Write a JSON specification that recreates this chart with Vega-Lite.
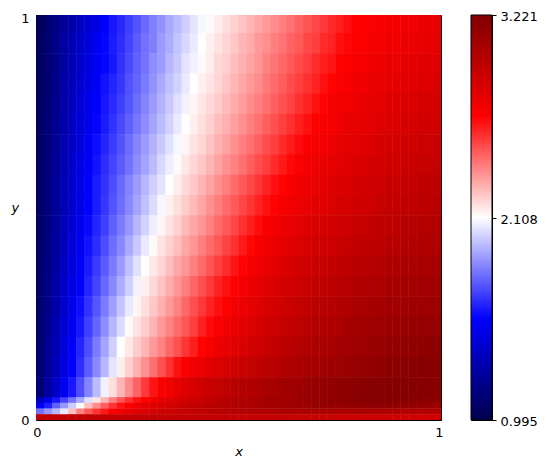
{"$schema":"https://vega.github.io/schema/vega-lite/v6.json","padding":{"left":10,"top":10,"right":0,"bottom":0},"background":"white","config":{"font":"DejaVu Sans","axis":{"labelFont":"DejaVu Sans","titleFont":"DejaVu Sans","labelFontSize":13,"titleFontSize":13,"labelColor":"#000","titleColor":"#000","grid":false,"domain":false,"titleFontWeight":"normal"},"view":{"stroke":"black"},"concat":{"spacing":26}},"datasets":{"main":[
{"x":1,"y":98,"v":1.04},{"x":3,"y":98,"v":1.10},{"x":5,"y":98,"v":1.17},{"x":7,"y":98,"v":1.23},{"x":9,"y":98,"v":1.29},{"x":11,"y":98,"v":1.35},{"x":13,"y":98,"v":1.42},{"x":15,"y":98,"v":1.47},{"x":17,"y":98,"v":1.54},{"x":19,"y":98,"v":1.60},{"x":21,"y":98,"v":1.64},{"x":23,"y":98,"v":1.69},{"x":25,"y":98,"v":1.73},{"x":27,"y":98,"v":1.78},{"x":29,"y":98,"v":1.83},{"x":31,"y":98,"v":1.87},{"x":33,"y":98,"v":1.92},{"x":35,"y":98,"v":1.96},{"x":37,"y":98,"v":2.00},{"x":39,"y":98,"v":2.05},{"x":41,"y":98,"v":2.09},{"x":43,"y":98,"v":2.12},{"x":45,"y":98,"v":2.15},{"x":47,"y":98,"v":2.18},{"x":49,"y":98,"v":2.21},{"x":51,"y":98,"v":2.24},{"x":53,"y":98,"v":2.27},{"x":55,"y":98,"v":2.30},{"x":57,"y":98,"v":2.33},{"x":59,"y":98,"v":2.36},{"x":61,"y":98,"v":2.39},{"x":63,"y":98,"v":2.42},{"x":65,"y":98,"v":2.45},{"x":67,"y":98,"v":2.48},{"x":69,"y":98,"v":2.51},{"x":71,"y":98,"v":2.54},{"x":73,"y":98,"v":2.57},{"x":75,"y":98,"v":2.60},{"x":77,"y":98,"v":2.63},{"x":79,"y":98,"v":2.66},{"x":81,"y":98,"v":2.67},{"x":83,"y":98,"v":2.68},{"x":85,"y":98,"v":2.69},{"x":87,"y":98,"v":2.70},{"x":89,"y":98,"v":2.71},{"x":91,"y":98,"v":2.72},{"x":93,"y":98,"v":2.73},{"x":95,"y":98,"v":2.74},{"x":97,"y":98,"v":2.75},{"x":99,"y":98,"v":2.76},
{"x":1,"y":93,"v":1.05},{"x":3,"y":93,"v":1.12},{"x":5,"y":93,"v":1.18},{"x":7,"y":93,"v":1.26},{"x":9,"y":93,"v":1.31},{"x":11,"y":93,"v":1.39},{"x":13,"y":93,"v":1.44},{"x":15,"y":93,"v":1.51},{"x":17,"y":93,"v":1.56},{"x":19,"y":93,"v":1.61},{"x":21,"y":93,"v":1.65},{"x":23,"y":93,"v":1.70},{"x":25,"y":93,"v":1.75},{"x":27,"y":93,"v":1.80},{"x":29,"y":93,"v":1.83},{"x":31,"y":93,"v":1.89},{"x":33,"y":93,"v":1.93},{"x":35,"y":93,"v":1.98},{"x":37,"y":93,"v":2.02},{"x":39,"y":93,"v":2.06},{"x":41,"y":93,"v":2.11},{"x":43,"y":93,"v":2.14},{"x":45,"y":93,"v":2.17},{"x":47,"y":93,"v":2.20},{"x":49,"y":93,"v":2.23},{"x":51,"y":93,"v":2.27},{"x":53,"y":93,"v":2.29},{"x":55,"y":93,"v":2.33},{"x":57,"y":93,"v":2.35},{"x":59,"y":93,"v":2.39},{"x":61,"y":93,"v":2.41},{"x":63,"y":93,"v":2.45},{"x":65,"y":93,"v":2.47},{"x":67,"y":93,"v":2.51},{"x":69,"y":93,"v":2.53},{"x":71,"y":93,"v":2.57},{"x":73,"y":93,"v":2.59},{"x":75,"y":93,"v":2.63},{"x":77,"y":93,"v":2.65},{"x":79,"y":93,"v":2.67},{"x":81,"y":93,"v":2.68},{"x":83,"y":93,"v":2.70},{"x":85,"y":93,"v":2.71},{"x":87,"y":93,"v":2.72},{"x":89,"y":93,"v":2.73},{"x":91,"y":93,"v":2.74},{"x":93,"y":93,"v":2.75},{"x":95,"y":93,"v":2.76},{"x":97,"y":93,"v":2.77},{"x":99,"y":93,"v":2.78},
{"x":1,"y":88,"v":1.05},{"x":3,"y":88,"v":1.11},{"x":5,"y":88,"v":1.19},{"x":7,"y":88,"v":1.25},{"x":9,"y":88,"v":1.33},{"x":11,"y":88,"v":1.38},{"x":13,"y":88,"v":1.46},{"x":15,"y":88,"v":1.51},{"x":17,"y":88,"v":1.56},{"x":19,"y":88,"v":1.60},{"x":21,"y":88,"v":1.66},{"x":23,"y":88,"v":1.71},{"x":25,"y":88,"v":1.76},{"x":27,"y":88,"v":1.80},{"x":29,"y":88,"v":1.86},{"x":31,"y":88,"v":1.89},{"x":33,"y":88,"v":1.95},{"x":35,"y":88,"v":1.99},{"x":37,"y":88,"v":2.05},{"x":39,"y":88,"v":2.08},{"x":41,"y":88,"v":2.12},{"x":43,"y":88,"v":2.15},{"x":45,"y":88,"v":2.19},{"x":47,"y":88,"v":2.21},{"x":49,"y":88,"v":2.25},{"x":51,"y":88,"v":2.28},{"x":53,"y":88,"v":2.31},{"x":55,"y":88,"v":2.34},{"x":57,"y":88,"v":2.38},{"x":59,"y":88,"v":2.41},{"x":61,"y":88,"v":2.44},{"x":63,"y":88,"v":2.47},{"x":65,"y":88,"v":2.50},{"x":67,"y":88,"v":2.53},{"x":69,"y":88,"v":2.57},{"x":71,"y":88,"v":2.60},{"x":73,"y":88,"v":2.62},{"x":75,"y":88,"v":2.66},{"x":77,"y":88,"v":2.68},{"x":79,"y":88,"v":2.69},{"x":81,"y":88,"v":2.71},{"x":83,"y":88,"v":2.72},{"x":85,"y":88,"v":2.74},{"x":87,"y":88,"v":2.75},{"x":89,"y":88,"v":2.76},{"x":91,"y":88,"v":2.77},{"x":93,"y":88,"v":2.78},{"x":95,"y":88,"v":2.79},{"x":97,"y":88,"v":2.80},{"x":99,"y":88,"v":2.80},
{"x":1,"y":83,"v":1.05},{"x":3,"y":83,"v":1.12},{"x":5,"y":83,"v":1.19},{"x":7,"y":83,"v":1.26},{"x":9,"y":83,"v":1.33},{"x":11,"y":83,"v":1.40},{"x":13,"y":83,"v":1.47},{"x":15,"y":83,"v":1.53},{"x":17,"y":83,"v":1.59},{"x":19,"y":83,"v":1.63},{"x":21,"y":83,"v":1.67},{"x":23,"y":83,"v":1.73},{"x":25,"y":83,"v":1.77},{"x":27,"y":83,"v":1.82},{"x":29,"y":83,"v":1.87},{"x":31,"y":83,"v":1.92},{"x":33,"y":83,"v":1.97},{"x":35,"y":83,"v":2.01},{"x":37,"y":83,"v":2.06},{"x":39,"y":83,"v":2.11},{"x":41,"y":83,"v":2.14},{"x":43,"y":83,"v":2.17},{"x":45,"y":83,"v":2.20},{"x":47,"y":83,"v":2.23},{"x":49,"y":83,"v":2.27},{"x":51,"y":83,"v":2.30},{"x":53,"y":83,"v":2.33},{"x":55,"y":83,"v":2.36},{"x":57,"y":83,"v":2.40},{"x":59,"y":83,"v":2.43},{"x":61,"y":83,"v":2.46},{"x":63,"y":83,"v":2.50},{"x":65,"y":83,"v":2.53},{"x":67,"y":83,"v":2.56},{"x":69,"y":83,"v":2.59},{"x":71,"y":83,"v":2.63},{"x":73,"y":83,"v":2.66},{"x":75,"y":83,"v":2.68},{"x":77,"y":83,"v":2.70},{"x":79,"y":83,"v":2.72},{"x":81,"y":83,"v":2.73},{"x":83,"y":83,"v":2.75},{"x":85,"y":83,"v":2.76},{"x":87,"y":83,"v":2.77},{"x":89,"y":83,"v":2.78},{"x":91,"y":83,"v":2.79},{"x":93,"y":83,"v":2.80},{"x":95,"y":83,"v":2.81},{"x":97,"y":83,"v":2.82},{"x":99,"y":83,"v":2.83},
{"x":1,"y":78,"v":1.06},{"x":3,"y":78,"v":1.12},{"x":5,"y":78,"v":1.20},{"x":7,"y":78,"v":1.27},{"x":9,"y":78,"v":1.35},{"x":11,"y":78,"v":1.41},{"x":13,"y":78,"v":1.49},{"x":15,"y":78,"v":1.55},{"x":17,"y":78,"v":1.60},{"x":19,"y":78,"v":1.64},{"x":21,"y":78,"v":1.69},{"x":23,"y":78,"v":1.74},{"x":25,"y":78,"v":1.79},{"x":27,"y":78,"v":1.84},{"x":29,"y":78,"v":1.89},{"x":31,"y":78,"v":1.94},{"x":33,"y":78,"v":1.99},{"x":35,"y":78,"v":2.04},{"x":37,"y":78,"v":2.08},{"x":39,"y":78,"v":2.13},{"x":41,"y":78,"v":2.16},{"x":43,"y":78,"v":2.19},{"x":45,"y":78,"v":2.22},{"x":47,"y":78,"v":2.26},{"x":49,"y":78,"v":2.29},{"x":51,"y":78,"v":2.32},{"x":53,"y":78,"v":2.36},{"x":55,"y":78,"v":2.39},{"x":57,"y":78,"v":2.42},{"x":59,"y":78,"v":2.46},{"x":61,"y":78,"v":2.49},{"x":63,"y":78,"v":2.52},{"x":65,"y":78,"v":2.56},{"x":67,"y":78,"v":2.59},{"x":69,"y":78,"v":2.63},{"x":71,"y":78,"v":2.66},{"x":73,"y":78,"v":2.69},{"x":75,"y":78,"v":2.71},{"x":77,"y":78,"v":2.73},{"x":79,"y":78,"v":2.74},{"x":81,"y":78,"v":2.76},{"x":83,"y":78,"v":2.77},{"x":85,"y":78,"v":2.78},{"x":87,"y":78,"v":2.80},{"x":89,"y":78,"v":2.81},{"x":91,"y":78,"v":2.82},{"x":93,"y":78,"v":2.83},{"x":95,"y":78,"v":2.84},{"x":97,"y":78,"v":2.84},{"x":99,"y":78,"v":2.85},
{"x":1,"y":73,"v":1.06},{"x":3,"y":73,"v":1.13},{"x":5,"y":73,"v":1.21},{"x":7,"y":73,"v":1.28},{"x":9,"y":73,"v":1.36},{"x":11,"y":73,"v":1.43},{"x":13,"y":73,"v":1.50},{"x":15,"y":73,"v":1.56},{"x":17,"y":73,"v":1.61},{"x":19,"y":73,"v":1.66},{"x":21,"y":73,"v":1.71},{"x":23,"y":73,"v":1.76},{"x":25,"y":73,"v":1.81},{"x":27,"y":73,"v":1.86},{"x":29,"y":73,"v":1.91},{"x":31,"y":73,"v":1.96},{"x":33,"y":73,"v":2.01},{"x":35,"y":73,"v":2.06},{"x":37,"y":73,"v":2.11},{"x":39,"y":73,"v":2.14},{"x":41,"y":73,"v":2.18},{"x":43,"y":73,"v":2.21},{"x":45,"y":73,"v":2.25},{"x":47,"y":73,"v":2.28},{"x":49,"y":73,"v":2.32},{"x":51,"y":73,"v":2.35},{"x":53,"y":73,"v":2.39},{"x":55,"y":73,"v":2.42},{"x":57,"y":73,"v":2.46},{"x":59,"y":73,"v":2.49},{"x":61,"y":73,"v":2.53},{"x":63,"y":73,"v":2.56},{"x":65,"y":73,"v":2.60},{"x":67,"y":73,"v":2.63},{"x":69,"y":73,"v":2.67},{"x":71,"y":73,"v":2.69},{"x":73,"y":73,"v":2.71},{"x":75,"y":73,"v":2.73},{"x":77,"y":73,"v":2.75},{"x":79,"y":73,"v":2.76},{"x":81,"y":73,"v":2.78},{"x":83,"y":73,"v":2.79},{"x":85,"y":73,"v":2.81},{"x":87,"y":73,"v":2.82},{"x":89,"y":73,"v":2.83},{"x":91,"y":73,"v":2.84},{"x":93,"y":73,"v":2.85},{"x":95,"y":73,"v":2.86},{"x":97,"y":73,"v":2.87},{"x":99,"y":73,"v":2.87},
{"x":1,"y":68,"v":1.06},{"x":3,"y":68,"v":1.14},{"x":5,"y":68,"v":1.22},{"x":7,"y":68,"v":1.30},{"x":9,"y":68,"v":1.37},{"x":11,"y":68,"v":1.44},{"x":13,"y":68,"v":1.52},{"x":15,"y":68,"v":1.58},{"x":17,"y":68,"v":1.63},{"x":19,"y":68,"v":1.68},{"x":21,"y":68,"v":1.73},{"x":23,"y":68,"v":1.79},{"x":25,"y":68,"v":1.84},{"x":27,"y":68,"v":1.89},{"x":29,"y":68,"v":1.94},{"x":31,"y":68,"v":1.99},{"x":33,"y":68,"v":2.04},{"x":35,"y":68,"v":2.09},{"x":37,"y":68,"v":2.13},{"x":39,"y":68,"v":2.17},{"x":41,"y":68,"v":2.20},{"x":43,"y":68,"v":2.24},{"x":45,"y":68,"v":2.28},{"x":47,"y":68,"v":2.31},{"x":49,"y":68,"v":2.35},{"x":51,"y":68,"v":2.39},{"x":53,"y":68,"v":2.42},{"x":55,"y":68,"v":2.46},{"x":57,"y":68,"v":2.50},{"x":59,"y":68,"v":2.53},{"x":61,"y":68,"v":2.57},{"x":63,"y":68,"v":2.61},{"x":65,"y":68,"v":2.64},{"x":67,"y":68,"v":2.68},{"x":69,"y":68,"v":2.70},{"x":71,"y":68,"v":2.72},{"x":73,"y":68,"v":2.74},{"x":75,"y":68,"v":2.76},{"x":77,"y":68,"v":2.78},{"x":79,"y":68,"v":2.79},{"x":81,"y":68,"v":2.81},{"x":83,"y":68,"v":2.82},{"x":85,"y":68,"v":2.84},{"x":87,"y":68,"v":2.85},{"x":89,"y":68,"v":2.86},{"x":91,"y":68,"v":2.87},{"x":93,"y":68,"v":2.88},{"x":95,"y":68,"v":2.89},{"x":97,"y":68,"v":2.89},{"x":99,"y":68,"v":2.90},
{"x":1,"y":63,"v":1.07},{"x":3,"y":63,"v":1.14},{"x":5,"y":63,"v":1.22},{"x":7,"y":63,"v":1.31},{"x":9,"y":63,"v":1.38},{"x":11,"y":63,"v":1.46},{"x":13,"y":63,"v":1.53},{"x":15,"y":63,"v":1.59},{"x":17,"y":63,"v":1.65},{"x":19,"y":63,"v":1.70},{"x":21,"y":63,"v":1.75},{"x":23,"y":63,"v":1.80},{"x":25,"y":63,"v":1.86},{"x":27,"y":63,"v":1.91},{"x":29,"y":63,"v":1.96},{"x":31,"y":63,"v":2.02},{"x":33,"y":63,"v":2.07},{"x":35,"y":63,"v":2.12},{"x":37,"y":63,"v":2.16},{"x":39,"y":63,"v":2.20},{"x":41,"y":63,"v":2.23},{"x":43,"y":63,"v":2.27},{"x":45,"y":63,"v":2.31},{"x":47,"y":63,"v":2.35},{"x":49,"y":63,"v":2.38},{"x":51,"y":63,"v":2.42},{"x":53,"y":63,"v":2.46},{"x":55,"y":63,"v":2.50},{"x":57,"y":63,"v":2.53},{"x":59,"y":63,"v":2.57},{"x":61,"y":63,"v":2.61},{"x":63,"y":63,"v":2.65},{"x":65,"y":63,"v":2.68},{"x":67,"y":63,"v":2.71},{"x":69,"y":63,"v":2.73},{"x":71,"y":63,"v":2.75},{"x":73,"y":63,"v":2.77},{"x":75,"y":63,"v":2.79},{"x":77,"y":63,"v":2.80},{"x":79,"y":63,"v":2.82},{"x":81,"y":63,"v":2.83},{"x":83,"y":63,"v":2.85},{"x":85,"y":63,"v":2.86},{"x":87,"y":63,"v":2.87},{"x":89,"y":63,"v":2.88},{"x":91,"y":63,"v":2.89},{"x":93,"y":63,"v":2.90},{"x":95,"y":63,"v":2.91},{"x":97,"y":63,"v":2.91},{"x":99,"y":63,"v":2.92},
{"x":1,"y":58,"v":1.07},{"x":3,"y":58,"v":1.15},{"x":5,"y":58,"v":1.23},{"x":7,"y":58,"v":1.32},{"x":9,"y":58,"v":1.40},{"x":11,"y":58,"v":1.48},{"x":13,"y":58,"v":1.55},{"x":15,"y":58,"v":1.61},{"x":17,"y":58,"v":1.66},{"x":19,"y":58,"v":1.72},{"x":21,"y":58,"v":1.78},{"x":23,"y":58,"v":1.84},{"x":25,"y":58,"v":1.89},{"x":27,"y":58,"v":1.95},{"x":29,"y":58,"v":2.00},{"x":31,"y":58,"v":2.05},{"x":33,"y":58,"v":2.11},{"x":35,"y":58,"v":2.15},{"x":37,"y":58,"v":2.19},{"x":39,"y":58,"v":2.23},{"x":41,"y":58,"v":2.27},{"x":43,"y":58,"v":2.31},{"x":45,"y":58,"v":2.35},{"x":47,"y":58,"v":2.39},{"x":49,"y":58,"v":2.43},{"x":51,"y":58,"v":2.47},{"x":53,"y":58,"v":2.51},{"x":55,"y":58,"v":2.55},{"x":57,"y":58,"v":2.59},{"x":59,"y":58,"v":2.63},{"x":61,"y":58,"v":2.66},{"x":63,"y":58,"v":2.69},{"x":65,"y":58,"v":2.72},{"x":67,"y":58,"v":2.74},{"x":69,"y":58,"v":2.76},{"x":71,"y":58,"v":2.78},{"x":73,"y":58,"v":2.80},{"x":75,"y":58,"v":2.82},{"x":77,"y":58,"v":2.83},{"x":79,"y":58,"v":2.85},{"x":81,"y":58,"v":2.86},{"x":83,"y":58,"v":2.87},{"x":85,"y":58,"v":2.89},{"x":87,"y":58,"v":2.90},{"x":89,"y":58,"v":2.91},{"x":91,"y":58,"v":2.92},{"x":93,"y":58,"v":2.93},{"x":95,"y":58,"v":2.94},{"x":97,"y":58,"v":2.94},{"x":99,"y":58,"v":2.95},
{"x":1,"y":53,"v":1.07},{"x":3,"y":53,"v":1.15},{"x":5,"y":53,"v":1.23},{"x":7,"y":53,"v":1.32},{"x":9,"y":53,"v":1.40},{"x":11,"y":53,"v":1.48},{"x":13,"y":53,"v":1.55},{"x":15,"y":53,"v":1.61},{"x":17,"y":53,"v":1.67},{"x":19,"y":53,"v":1.73},{"x":21,"y":53,"v":1.79},{"x":23,"y":53,"v":1.85},{"x":25,"y":53,"v":1.91},{"x":27,"y":53,"v":1.97},{"x":29,"y":53,"v":2.03},{"x":31,"y":53,"v":2.09},{"x":33,"y":53,"v":2.14},{"x":35,"y":53,"v":2.18},{"x":37,"y":53,"v":2.22},{"x":39,"y":53,"v":2.26},{"x":41,"y":53,"v":2.30},{"x":43,"y":53,"v":2.35},{"x":45,"y":53,"v":2.39},{"x":47,"y":53,"v":2.43},{"x":49,"y":53,"v":2.47},{"x":51,"y":53,"v":2.51},{"x":53,"y":53,"v":2.55},{"x":55,"y":53,"v":2.59},{"x":57,"y":53,"v":2.63},{"x":59,"y":53,"v":2.66},{"x":61,"y":53,"v":2.69},{"x":63,"y":53,"v":2.72},{"x":65,"y":53,"v":2.74},{"x":67,"y":53,"v":2.76},{"x":69,"y":53,"v":2.78},{"x":71,"y":53,"v":2.80},{"x":73,"y":53,"v":2.82},{"x":75,"y":53,"v":2.84},{"x":77,"y":53,"v":2.85},{"x":79,"y":53,"v":2.87},{"x":81,"y":53,"v":2.88},{"x":83,"y":53,"v":2.89},{"x":85,"y":53,"v":2.91},{"x":87,"y":53,"v":2.92},{"x":89,"y":53,"v":2.93},{"x":91,"y":53,"v":2.94},{"x":93,"y":53,"v":2.95},{"x":95,"y":53,"v":2.96},{"x":97,"y":53,"v":2.96},{"x":99,"y":53,"v":2.97},
{"x":1,"y":48,"v":1.07},{"x":3,"y":48,"v":1.16},{"x":5,"y":48,"v":1.24},{"x":7,"y":48,"v":1.33},{"x":9,"y":48,"v":1.41},{"x":11,"y":48,"v":1.50},{"x":13,"y":48,"v":1.57},{"x":15,"y":48,"v":1.63},{"x":17,"y":48,"v":1.69},{"x":19,"y":48,"v":1.76},{"x":21,"y":48,"v":1.82},{"x":23,"y":48,"v":1.88},{"x":25,"y":48,"v":1.95},{"x":27,"y":48,"v":2.01},{"x":29,"y":48,"v":2.07},{"x":31,"y":48,"v":2.13},{"x":33,"y":48,"v":2.17},{"x":35,"y":48,"v":2.21},{"x":37,"y":48,"v":2.26},{"x":39,"y":48,"v":2.30},{"x":41,"y":48,"v":2.34},{"x":43,"y":48,"v":2.38},{"x":45,"y":48,"v":2.43},{"x":47,"y":48,"v":2.47},{"x":49,"y":48,"v":2.51},{"x":51,"y":48,"v":2.56},{"x":53,"y":48,"v":2.60},{"x":55,"y":48,"v":2.64},{"x":57,"y":48,"v":2.68},{"x":59,"y":48,"v":2.71},{"x":61,"y":48,"v":2.74},{"x":63,"y":48,"v":2.76},{"x":65,"y":48,"v":2.79},{"x":67,"y":48,"v":2.81},{"x":69,"y":48,"v":2.83},{"x":71,"y":48,"v":2.85},{"x":73,"y":48,"v":2.86},{"x":75,"y":48,"v":2.88},{"x":77,"y":48,"v":2.89},{"x":79,"y":48,"v":2.91},{"x":81,"y":48,"v":2.92},{"x":83,"y":48,"v":2.93},{"x":85,"y":48,"v":2.94},{"x":87,"y":48,"v":2.95},{"x":89,"y":48,"v":2.96},{"x":91,"y":48,"v":2.97},{"x":93,"y":48,"v":2.98},{"x":95,"y":48,"v":2.99},{"x":97,"y":48,"v":2.99},{"x":99,"y":48,"v":3.00},
{"x":1,"y":43,"v":1.08},{"x":3,"y":43,"v":1.16},{"x":5,"y":43,"v":1.25},{"x":7,"y":43,"v":1.34},{"x":9,"y":43,"v":1.43},{"x":11,"y":43,"v":1.51},{"x":13,"y":43,"v":1.59},{"x":15,"y":43,"v":1.65},{"x":17,"y":43,"v":1.72},{"x":19,"y":43,"v":1.79},{"x":21,"y":43,"v":1.85},{"x":23,"y":43,"v":1.92},{"x":25,"y":43,"v":1.99},{"x":27,"y":43,"v":2.06},{"x":29,"y":43,"v":2.12},{"x":31,"y":43,"v":2.17},{"x":33,"y":43,"v":2.21},{"x":35,"y":43,"v":2.25},{"x":37,"y":43,"v":2.30},{"x":39,"y":43,"v":2.34},{"x":41,"y":43,"v":2.39},{"x":43,"y":43,"v":2.43},{"x":45,"y":43,"v":2.47},{"x":47,"y":43,"v":2.52},{"x":49,"y":43,"v":2.56},{"x":51,"y":43,"v":2.61},{"x":53,"y":43,"v":2.65},{"x":55,"y":43,"v":2.69},{"x":57,"y":43,"v":2.72},{"x":59,"y":43,"v":2.75},{"x":61,"y":43,"v":2.77},{"x":63,"y":43,"v":2.80},{"x":65,"y":43,"v":2.82},{"x":67,"y":43,"v":2.84},{"x":69,"y":43,"v":2.86},{"x":71,"y":43,"v":2.87},{"x":73,"y":43,"v":2.89},{"x":75,"y":43,"v":2.90},{"x":77,"y":43,"v":2.92},{"x":79,"y":43,"v":2.93},{"x":81,"y":43,"v":2.94},{"x":83,"y":43,"v":2.95},{"x":85,"y":43,"v":2.96},{"x":87,"y":43,"v":2.97},{"x":89,"y":43,"v":2.98},{"x":91,"y":43,"v":2.99},{"x":93,"y":43,"v":3.00},{"x":95,"y":43,"v":3.01},{"x":97,"y":43,"v":3.01},{"x":99,"y":43,"v":3.02},
{"x":1,"y":38,"v":1.08},{"x":3,"y":38,"v":1.17},{"x":5,"y":38,"v":1.26},{"x":7,"y":38,"v":1.35},{"x":9,"y":38,"v":1.44},{"x":11,"y":38,"v":1.53},{"x":13,"y":38,"v":1.61},{"x":15,"y":38,"v":1.68},{"x":17,"y":38,"v":1.75},{"x":19,"y":38,"v":1.82},{"x":21,"y":38,"v":1.89},{"x":23,"y":38,"v":1.97},{"x":25,"y":38,"v":2.04},{"x":27,"y":38,"v":2.11},{"x":29,"y":38,"v":2.16},{"x":31,"y":38,"v":2.20},{"x":33,"y":38,"v":2.25},{"x":35,"y":38,"v":2.30},{"x":37,"y":38,"v":2.34},{"x":39,"y":38,"v":2.39},{"x":41,"y":38,"v":2.43},{"x":43,"y":38,"v":2.48},{"x":45,"y":38,"v":2.53},{"x":47,"y":38,"v":2.57},{"x":49,"y":38,"v":2.62},{"x":51,"y":38,"v":2.66},{"x":53,"y":38,"v":2.70},{"x":55,"y":38,"v":2.73},{"x":57,"y":38,"v":2.76},{"x":59,"y":38,"v":2.79},{"x":61,"y":38,"v":2.81},{"x":63,"y":38,"v":2.84},{"x":65,"y":38,"v":2.86},{"x":67,"y":38,"v":2.88},{"x":69,"y":38,"v":2.89},{"x":71,"y":38,"v":2.91},{"x":73,"y":38,"v":2.93},{"x":75,"y":38,"v":2.94},{"x":77,"y":38,"v":2.95},{"x":79,"y":38,"v":2.97},{"x":81,"y":38,"v":2.98},{"x":83,"y":38,"v":2.99},{"x":85,"y":38,"v":3.00},{"x":87,"y":38,"v":3.01},{"x":89,"y":38,"v":3.02},{"x":91,"y":38,"v":3.03},{"x":93,"y":38,"v":3.03},{"x":95,"y":38,"v":3.04},{"x":97,"y":38,"v":3.04},{"x":99,"y":38,"v":3.05},
{"x":1,"y":33,"v":1.08},{"x":3,"y":33,"v":1.18},{"x":5,"y":33,"v":1.27},{"x":7,"y":33,"v":1.37},{"x":9,"y":33,"v":1.46},{"x":11,"y":33,"v":1.55},{"x":13,"y":33,"v":1.63},{"x":15,"y":33,"v":1.70},{"x":17,"y":33,"v":1.78},{"x":19,"y":33,"v":1.85},{"x":21,"y":33,"v":1.93},{"x":23,"y":33,"v":2.00},{"x":25,"y":33,"v":2.08},{"x":27,"y":33,"v":2.14},{"x":29,"y":33,"v":2.19},{"x":31,"y":33,"v":2.24},{"x":33,"y":33,"v":2.29},{"x":35,"y":33,"v":2.34},{"x":37,"y":33,"v":2.39},{"x":39,"y":33,"v":2.44},{"x":41,"y":33,"v":2.49},{"x":43,"y":33,"v":2.54},{"x":45,"y":33,"v":2.59},{"x":47,"y":33,"v":2.63},{"x":49,"y":33,"v":2.67},{"x":51,"y":33,"v":2.71},{"x":53,"y":33,"v":2.74},{"x":55,"y":33,"v":2.77},{"x":57,"y":33,"v":2.80},{"x":59,"y":33,"v":2.83},{"x":61,"y":33,"v":2.85},{"x":63,"y":33,"v":2.87},{"x":65,"y":33,"v":2.89},{"x":67,"y":33,"v":2.91},{"x":69,"y":33,"v":2.93},{"x":71,"y":33,"v":2.94},{"x":73,"y":33,"v":2.96},{"x":75,"y":33,"v":2.97},{"x":77,"y":33,"v":2.99},{"x":79,"y":33,"v":3.00},{"x":81,"y":33,"v":3.01},{"x":83,"y":33,"v":3.02},{"x":85,"y":33,"v":3.03},{"x":87,"y":33,"v":3.04},{"x":89,"y":33,"v":3.05},{"x":91,"y":33,"v":3.06},{"x":93,"y":33,"v":3.06},{"x":95,"y":33,"v":3.07},{"x":97,"y":33,"v":3.07},{"x":99,"y":33,"v":3.08},
{"x":1,"y":28,"v":1.09},{"x":3,"y":28,"v":1.19},{"x":5,"y":28,"v":1.29},{"x":7,"y":28,"v":1.39},{"x":9,"y":28,"v":1.49},{"x":11,"y":28,"v":1.58},{"x":13,"y":28,"v":1.66},{"x":15,"y":28,"v":1.74},{"x":17,"y":28,"v":1.82},{"x":19,"y":28,"v":1.90},{"x":21,"y":28,"v":1.98},{"x":23,"y":28,"v":2.06},{"x":25,"y":28,"v":2.13},{"x":27,"y":28,"v":2.18},{"x":29,"y":28,"v":2.23},{"x":31,"y":28,"v":2.28},{"x":33,"y":28,"v":2.33},{"x":35,"y":28,"v":2.38},{"x":37,"y":28,"v":2.44},{"x":39,"y":28,"v":2.49},{"x":41,"y":28,"v":2.54},{"x":43,"y":28,"v":2.59},{"x":45,"y":28,"v":2.63},{"x":47,"y":28,"v":2.67},{"x":49,"y":28,"v":2.71},{"x":51,"y":28,"v":2.74},{"x":53,"y":28,"v":2.77},{"x":55,"y":28,"v":2.80},{"x":57,"y":28,"v":2.83},{"x":59,"y":28,"v":2.85},{"x":61,"y":28,"v":2.88},{"x":63,"y":28,"v":2.90},{"x":65,"y":28,"v":2.92},{"x":67,"y":28,"v":2.94},{"x":69,"y":28,"v":2.96},{"x":71,"y":28,"v":2.97},{"x":73,"y":28,"v":2.99},{"x":75,"y":28,"v":3.00},{"x":77,"y":28,"v":3.01},{"x":79,"y":28,"v":3.03},{"x":81,"y":28,"v":3.04},{"x":83,"y":28,"v":3.05},{"x":85,"y":28,"v":3.06},{"x":87,"y":28,"v":3.07},{"x":89,"y":28,"v":3.08},{"x":91,"y":28,"v":3.08},{"x":93,"y":28,"v":3.09},{"x":95,"y":28,"v":3.09},{"x":97,"y":28,"v":3.10},{"x":99,"y":28,"v":3.10},
{"x":1,"y":23,"v":1.09},{"x":3,"y":23,"v":1.20},{"x":5,"y":23,"v":1.30},{"x":7,"y":23,"v":1.41},{"x":9,"y":23,"v":1.51},{"x":11,"y":23,"v":1.60},{"x":13,"y":23,"v":1.69},{"x":15,"y":23,"v":1.77},{"x":17,"y":23,"v":1.86},{"x":19,"y":23,"v":1.95},{"x":21,"y":23,"v":2.03},{"x":23,"y":23,"v":2.12},{"x":25,"y":23,"v":2.17},{"x":27,"y":23,"v":2.22},{"x":29,"y":23,"v":2.27},{"x":31,"y":23,"v":2.33},{"x":33,"y":23,"v":2.38},{"x":35,"y":23,"v":2.43},{"x":37,"y":23,"v":2.48},{"x":39,"y":23,"v":2.53},{"x":41,"y":23,"v":2.59},{"x":43,"y":23,"v":2.64},{"x":45,"y":23,"v":2.68},{"x":47,"y":23,"v":2.72},{"x":49,"y":23,"v":2.75},{"x":51,"y":23,"v":2.78},{"x":53,"y":23,"v":2.81},{"x":55,"y":23,"v":2.84},{"x":57,"y":23,"v":2.87},{"x":59,"y":23,"v":2.89},{"x":61,"y":23,"v":2.91},{"x":63,"y":23,"v":2.93},{"x":65,"y":23,"v":2.95},{"x":67,"y":23,"v":2.97},{"x":69,"y":23,"v":2.99},{"x":71,"y":23,"v":3.00},{"x":73,"y":23,"v":3.02},{"x":75,"y":23,"v":3.03},{"x":77,"y":23,"v":3.05},{"x":79,"y":23,"v":3.06},{"x":81,"y":23,"v":3.07},{"x":83,"y":23,"v":3.08},{"x":85,"y":23,"v":3.09},{"x":87,"y":23,"v":3.10},{"x":89,"y":23,"v":3.11},{"x":91,"y":23,"v":3.11},{"x":93,"y":23,"v":3.12},{"x":95,"y":23,"v":3.12},{"x":97,"y":23,"v":3.13},{"x":99,"y":23,"v":3.13},
{"x":1,"y":18,"v":1.10},{"x":3,"y":18,"v":1.21},{"x":5,"y":18,"v":1.32},{"x":7,"y":18,"v":1.43},{"x":9,"y":18,"v":1.53},{"x":11,"y":18,"v":1.63},{"x":13,"y":18,"v":1.72},{"x":15,"y":18,"v":1.82},{"x":17,"y":18,"v":1.91},{"x":19,"y":18,"v":2.00},{"x":21,"y":18,"v":2.11},{"x":23,"y":18,"v":2.16},{"x":25,"y":18,"v":2.22},{"x":27,"y":18,"v":2.27},{"x":29,"y":18,"v":2.33},{"x":31,"y":18,"v":2.38},{"x":33,"y":18,"v":2.44},{"x":35,"y":18,"v":2.49},{"x":37,"y":18,"v":2.55},{"x":39,"y":18,"v":2.60},{"x":41,"y":18,"v":2.66},{"x":43,"y":18,"v":2.70},{"x":45,"y":18,"v":2.74},{"x":47,"y":18,"v":2.77},{"x":49,"y":18,"v":2.80},{"x":51,"y":18,"v":2.83},{"x":53,"y":18,"v":2.86},{"x":55,"y":18,"v":2.88},{"x":57,"y":18,"v":2.91},{"x":59,"y":18,"v":2.93},{"x":61,"y":18,"v":2.95},{"x":63,"y":18,"v":2.97},{"x":65,"y":18,"v":2.99},{"x":67,"y":18,"v":3.01},{"x":69,"y":18,"v":3.02},{"x":71,"y":18,"v":3.04},{"x":73,"y":18,"v":3.05},{"x":75,"y":18,"v":3.07},{"x":77,"y":18,"v":3.08},{"x":79,"y":18,"v":3.09},{"x":81,"y":18,"v":3.10},{"x":83,"y":18,"v":3.11},{"x":85,"y":18,"v":3.12},{"x":87,"y":18,"v":3.13},{"x":89,"y":18,"v":3.14},{"x":91,"y":18,"v":3.14},{"x":93,"y":18,"v":3.15},{"x":95,"y":18,"v":3.15},{"x":97,"y":18,"v":3.16},{"x":99,"y":18,"v":3.16},
{"x":1,"y":13,"v":1.10},{"x":3,"y":13,"v":1.22},{"x":5,"y":13,"v":1.34},{"x":7,"y":13,"v":1.45},{"x":9,"y":13,"v":1.55},{"x":11,"y":13,"v":1.65},{"x":13,"y":13,"v":1.75},{"x":15,"y":13,"v":1.85},{"x":17,"y":13,"v":1.95},{"x":19,"y":13,"v":2.05},{"x":21,"y":13,"v":2.14},{"x":23,"y":13,"v":2.21},{"x":25,"y":13,"v":2.28},{"x":27,"y":13,"v":2.35},{"x":29,"y":13,"v":2.42},{"x":31,"y":13,"v":2.49},{"x":33,"y":13,"v":2.56},{"x":35,"y":13,"v":2.63},{"x":37,"y":13,"v":2.68},{"x":39,"y":13,"v":2.72},{"x":41,"y":13,"v":2.75},{"x":43,"y":13,"v":2.79},{"x":45,"y":13,"v":2.82},{"x":47,"y":13,"v":2.85},{"x":49,"y":13,"v":2.87},{"x":51,"y":13,"v":2.90},{"x":53,"y":13,"v":2.92},{"x":55,"y":13,"v":2.94},{"x":57,"y":13,"v":2.96},{"x":59,"y":13,"v":2.98},{"x":61,"y":13,"v":3.00},{"x":63,"y":13,"v":3.02},{"x":65,"y":13,"v":3.03},{"x":67,"y":13,"v":3.05},{"x":69,"y":13,"v":3.06},{"x":71,"y":13,"v":3.08},{"x":73,"y":13,"v":3.09},{"x":75,"y":13,"v":3.10},{"x":77,"y":13,"v":3.11},{"x":79,"y":13,"v":3.12},{"x":81,"y":13,"v":3.13},{"x":83,"y":13,"v":3.14},{"x":85,"y":13,"v":3.15},{"x":87,"y":13,"v":3.16},{"x":89,"y":13,"v":3.17},{"x":91,"y":13,"v":3.17},{"x":93,"y":13,"v":3.18},{"x":95,"y":13,"v":3.18},{"x":97,"y":13,"v":3.18},{"x":99,"y":13,"v":3.18},
{"x":1,"y":8,"v":1.12},{"x":3,"y":8,"v":1.25},{"x":5,"y":8,"v":1.38},{"x":7,"y":8,"v":1.50},{"x":9,"y":8,"v":1.60},{"x":11,"y":8,"v":1.72},{"x":13,"y":8,"v":1.84},{"x":15,"y":8,"v":1.96},{"x":17,"y":8,"v":2.08},{"x":19,"y":8,"v":2.18},{"x":21,"y":8,"v":2.27},{"x":23,"y":8,"v":2.36},{"x":25,"y":8,"v":2.45},{"x":27,"y":8,"v":2.54},{"x":29,"y":8,"v":2.62},{"x":31,"y":8,"v":2.68},{"x":33,"y":8,"v":2.73},{"x":35,"y":8,"v":2.77},{"x":37,"y":8,"v":2.81},{"x":39,"y":8,"v":2.84},{"x":41,"y":8,"v":2.87},{"x":43,"y":8,"v":2.90},{"x":45,"y":8,"v":2.92},{"x":47,"y":8,"v":2.95},{"x":49,"y":8,"v":2.97},{"x":51,"y":8,"v":2.99},{"x":53,"y":8,"v":3.00},{"x":55,"y":8,"v":3.02},{"x":57,"y":8,"v":3.04},{"x":59,"y":8,"v":3.05},{"x":61,"y":8,"v":3.07},{"x":63,"y":8,"v":3.08},{"x":65,"y":8,"v":3.09},{"x":67,"y":8,"v":3.11},{"x":69,"y":8,"v":3.12},{"x":71,"y":8,"v":3.13},{"x":73,"y":8,"v":3.14},{"x":75,"y":8,"v":3.15},{"x":77,"y":8,"v":3.16},{"x":79,"y":8,"v":3.17},{"x":81,"y":8,"v":3.18},{"x":83,"y":8,"v":3.19},{"x":85,"y":8,"v":3.20},{"x":87,"y":8,"v":3.20},{"x":89,"y":8,"v":3.20},{"x":91,"y":8,"v":3.20},{"x":93,"y":8,"v":3.19},{"x":95,"y":8,"v":3.19},{"x":97,"y":8,"v":3.19},{"x":99,"y":8,"v":3.18}
],"base":[
{"x":1,"y":4.9,"v":1.35},{"x":3,"y":4.9,"v":1.48},{"x":5,"y":4.9,"v":1.60},{"x":7,"y":4.9,"v":1.70},{"x":9,"y":4.9,"v":1.80},{"x":11,"y":4.9,"v":1.92},{"x":13,"y":4.9,"v":2.04},{"x":15,"y":4.9,"v":2.16},{"x":17,"y":4.9,"v":2.27},{"x":19,"y":4.9,"v":2.38},{"x":21,"y":4.9,"v":2.48},{"x":23,"y":4.9,"v":2.56},{"x":25,"y":4.9,"v":2.62},{"x":27,"y":4.9,"v":2.67},{"x":29,"y":4.9,"v":2.72},{"x":31,"y":4.9,"v":2.76},{"x":33,"y":4.9,"v":2.80},{"x":35,"y":4.9,"v":2.83},{"x":37,"y":4.9,"v":2.86},{"x":39,"y":4.9,"v":2.89},{"x":41,"y":4.9,"v":2.91},{"x":43,"y":4.9,"v":2.94},{"x":45,"y":4.9,"v":2.96},{"x":47,"y":4.9,"v":2.98},{"x":49,"y":4.9,"v":3.00},{"x":51,"y":4.9,"v":3.01},{"x":53,"y":4.9,"v":3.03},{"x":55,"y":4.9,"v":3.04},{"x":57,"y":4.9,"v":3.06},{"x":59,"y":4.9,"v":3.07},{"x":61,"y":4.9,"v":3.08},{"x":63,"y":4.9,"v":3.09},{"x":65,"y":4.9,"v":3.11},{"x":67,"y":4.9,"v":3.12},{"x":69,"y":4.9,"v":3.13},{"x":71,"y":4.9,"v":3.14},{"x":73,"y":4.9,"v":3.15},{"x":75,"y":4.9,"v":3.16},{"x":77,"y":4.9,"v":3.17},{"x":79,"y":4.9,"v":3.18},{"x":81,"y":4.9,"v":3.19},{"x":83,"y":4.9,"v":3.20},{"x":85,"y":4.9,"v":3.20},{"x":87,"y":4.9,"v":3.20},{"x":89,"y":4.9,"v":3.19},{"x":91,"y":4.9,"v":3.19},{"x":93,"y":4.9,"v":3.18},{"x":95,"y":4.9,"v":3.18},{"x":97,"y":4.9,"v":3.17},{"x":99,"y":4.9,"v":3.16},
{"x":1,"y":3.5,"v":1.50},{"x":3,"y":3.5,"v":1.62},{"x":5,"y":3.5,"v":1.76},{"x":7,"y":3.5,"v":1.88},{"x":9,"y":3.5,"v":2.00},{"x":11,"y":3.5,"v":2.12},{"x":13,"y":3.5,"v":2.25},{"x":15,"y":3.5,"v":2.36},{"x":17,"y":3.5,"v":2.46},{"x":19,"y":3.5,"v":2.55},{"x":21,"y":3.5,"v":2.62},{"x":23,"y":3.5,"v":2.68},{"x":25,"y":3.5,"v":2.73},{"x":27,"y":3.5,"v":2.77},{"x":29,"y":3.5,"v":2.80},{"x":31,"y":3.5,"v":2.83},{"x":33,"y":3.5,"v":2.86},{"x":35,"y":3.5,"v":2.88},{"x":37,"y":3.5,"v":2.91},{"x":39,"y":3.5,"v":2.93},{"x":41,"y":3.5,"v":2.95},{"x":43,"y":3.5,"v":2.97},{"x":45,"y":3.5,"v":2.98},{"x":47,"y":3.5,"v":3.00},{"x":49,"y":3.5,"v":3.01},{"x":51,"y":3.5,"v":3.02},{"x":53,"y":3.5,"v":3.03},{"x":55,"y":3.5,"v":3.04},{"x":57,"y":3.5,"v":3.05},{"x":59,"y":3.5,"v":3.06},{"x":61,"y":3.5,"v":3.07},{"x":63,"y":3.5,"v":3.08},{"x":65,"y":3.5,"v":3.09},{"x":67,"y":3.5,"v":3.10},{"x":69,"y":3.5,"v":3.11},{"x":71,"y":3.5,"v":3.12},{"x":73,"y":3.5,"v":3.12},{"x":75,"y":3.5,"v":3.13},{"x":77,"y":3.5,"v":3.14},{"x":79,"y":3.5,"v":3.14},{"x":81,"y":3.5,"v":3.15},{"x":83,"y":3.5,"v":3.15},{"x":85,"y":3.5,"v":3.15},{"x":87,"y":3.5,"v":3.14},{"x":89,"y":3.5,"v":3.14},{"x":91,"y":3.5,"v":3.13},{"x":93,"y":3.5,"v":3.13},{"x":95,"y":3.5,"v":3.12},{"x":97,"y":3.5,"v":3.11},{"x":99,"y":3.5,"v":3.10},
{"x":1,"y":2.1,"v":1.80},{"x":3,"y":2.1,"v":1.88},{"x":5,"y":2.1,"v":1.95},{"x":7,"y":2.1,"v":2.06},{"x":9,"y":2.1,"v":2.25},{"x":11,"y":2.1,"v":2.38},{"x":13,"y":2.1,"v":2.48},{"x":15,"y":2.1,"v":2.55},{"x":17,"y":2.1,"v":2.61},{"x":19,"y":2.1,"v":2.67},{"x":21,"y":2.1,"v":2.72},{"x":23,"y":2.1,"v":2.76},{"x":25,"y":2.1,"v":2.80},{"x":27,"y":2.1,"v":2.82},{"x":29,"y":2.1,"v":2.85},{"x":31,"y":2.1,"v":2.87},{"x":33,"y":2.1,"v":2.89},{"x":35,"y":2.1,"v":2.91},{"x":37,"y":2.1,"v":2.92},{"x":39,"y":2.1,"v":2.93},{"x":41,"y":2.1,"v":2.95},{"x":43,"y":2.1,"v":2.96},{"x":45,"y":2.1,"v":2.97},{"x":47,"y":2.1,"v":2.98},{"x":49,"y":2.1,"v":2.99},{"x":51,"y":2.1,"v":3.00},{"x":53,"y":2.1,"v":3.00},{"x":55,"y":2.1,"v":3.01},{"x":57,"y":2.1,"v":3.02},{"x":59,"y":2.1,"v":3.02},{"x":61,"y":2.1,"v":3.03},{"x":63,"y":2.1,"v":3.03},{"x":65,"y":2.1,"v":3.03},{"x":67,"y":2.1,"v":3.04},{"x":69,"y":2.1,"v":3.04},{"x":71,"y":2.1,"v":3.04},{"x":73,"y":2.1,"v":3.04},{"x":75,"y":2.1,"v":3.04},{"x":77,"y":2.1,"v":3.04},{"x":79,"y":2.1,"v":3.04},{"x":81,"y":2.1,"v":3.04},{"x":83,"y":2.1,"v":3.04},{"x":85,"y":2.1,"v":3.03},{"x":87,"y":2.1,"v":3.03},{"x":89,"y":2.1,"v":3.03},{"x":91,"y":2.1,"v":3.02},{"x":93,"y":2.1,"v":3.02},{"x":95,"y":2.1,"v":3.01},{"x":97,"y":2.1,"v":3.01},{"x":99,"y":2.1,"v":3.00},
{"x":1,"y":0.7,"v":2.95},{"x":3,"y":0.7,"v":2.95},{"x":5,"y":0.7,"v":2.94},{"x":7,"y":0.7,"v":2.94},{"x":9,"y":0.7,"v":2.94},{"x":11,"y":0.7,"v":2.94},{"x":13,"y":0.7,"v":2.94},{"x":15,"y":0.7,"v":2.94},{"x":17,"y":0.7,"v":2.94},{"x":19,"y":0.7,"v":2.94},{"x":21,"y":0.7,"v":2.94},{"x":23,"y":0.7,"v":2.94},{"x":25,"y":0.7,"v":2.94},{"x":27,"y":0.7,"v":2.94},{"x":29,"y":0.7,"v":2.94},{"x":31,"y":0.7,"v":2.94},{"x":33,"y":0.7,"v":2.94},{"x":35,"y":0.7,"v":2.93},{"x":37,"y":0.7,"v":2.93},{"x":39,"y":0.7,"v":2.93},{"x":41,"y":0.7,"v":2.93},{"x":43,"y":0.7,"v":2.93},{"x":45,"y":0.7,"v":2.93},{"x":47,"y":0.7,"v":2.93},{"x":49,"y":0.7,"v":2.93},{"x":51,"y":0.7,"v":2.92},{"x":53,"y":0.7,"v":2.92},{"x":55,"y":0.7,"v":2.92},{"x":57,"y":0.7,"v":2.92},{"x":59,"y":0.7,"v":2.92},{"x":61,"y":0.7,"v":2.92},{"x":63,"y":0.7,"v":2.91},{"x":65,"y":0.7,"v":2.91},{"x":67,"y":0.7,"v":2.91},{"x":69,"y":0.7,"v":2.91},{"x":71,"y":0.7,"v":2.91},{"x":73,"y":0.7,"v":2.90},{"x":75,"y":0.7,"v":2.90},{"x":77,"y":0.7,"v":2.90},{"x":79,"y":0.7,"v":2.90},{"x":81,"y":0.7,"v":2.89},{"x":83,"y":0.7,"v":2.89},{"x":85,"y":0.7,"v":2.89},{"x":87,"y":0.7,"v":2.89},{"x":89,"y":0.7,"v":2.88},{"x":91,"y":0.7,"v":2.88},{"x":93,"y":0.7,"v":2.88},{"x":95,"y":0.7,"v":2.87},{"x":97,"y":0.7,"v":2.87},{"x":99,"y":0.7,"v":2.87}
]},"hconcat":[{"width":405,"height":405,"view":{"stroke":"black"},"encoding":{"x":{"field":"x","type":"quantitative","scale":{"domain":[0,100],"nice":false},"axis":{"values":[0.25,99.5],"labelExpr":"datum.value<50?'0':'1'","tickSize":0,"labelPadding":6,"title":"x","titleFontStyle":"italic","titlePadding":6}},"y":{"field":"y","type":"quantitative","scale":{"domain":[0,100],"nice":false},"axis":{"values":[0,99.25],"labelExpr":"datum.value<50?'0':'1'","tickSize":0,"labelPadding":7,"title":"y","titleFontStyle":"italic","titleAngle":0,"titleAlign":"right","titleBaseline":"middle","titlePadding":2,"titleY":192}},"color":{"field":"v","type":"quantitative","legend":null,"scale":{"domain":[0.995,1.5515,2.108,2.6645,3.221],"range":["#00004d","#0000ff","#ffffff","#ff0000","#800000"],"interpolate":"rgb"}}},"layer":[{"data":{"name":"main"},"mark":{"type":"rect","width":8.6,"height":20.8,"clip":true}},{"data":{"name":"base"},"mark":{"type":"rect","width":8.6,"height":6,"clip":true}}]},{"width":21,"height":405,"view":{"stroke":"black"},"data":{"values":[{"lo":0.995,"hi":3.221}]},"mark":{"type":"rect","stroke":"black","strokeWidth":1,"fill":{"gradient":"linear","x1":0,"y1":1,"x2":0,"y2":0,"stops":[{"offset":0,"color":"#00004d"},{"offset":0.25,"color":"#0000ff"},{"offset":0.5,"color":"#ffffff"},{"offset":0.75,"color":"#ff0000"},{"offset":1,"color":"#800000"}]}},"encoding":{"y":{"field":"lo","type":"quantitative","scale":{"domain":[0.995,3.221],"nice":false,"zero":false},"axis":{"orient":"right","values":[0.995,2.108,3.221],"format":".3f","tickSize":4,"tickColor":"#000","labelPadding":4,"labelOffset":1.5,"title":null}},"y2":{"field":"hi"}}}]}
